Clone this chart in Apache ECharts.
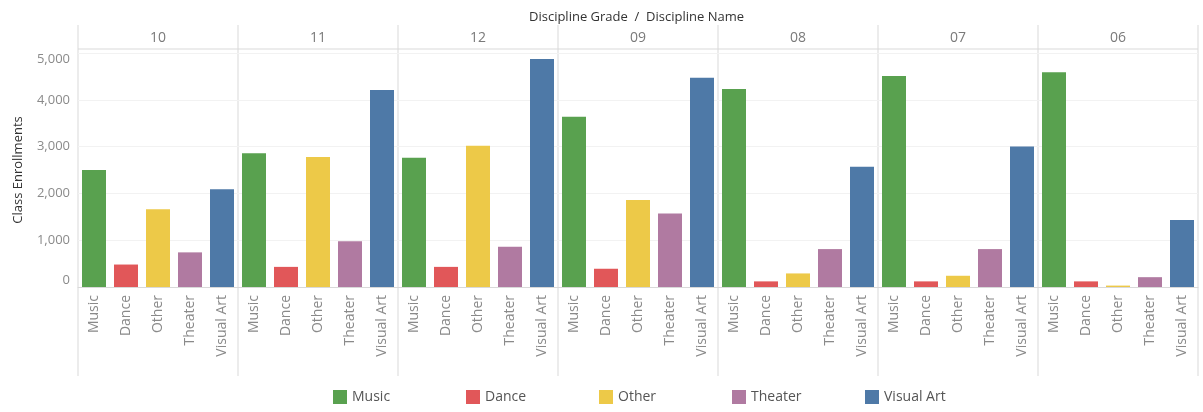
<!DOCTYPE html>
<html>
<head>
<meta charset="utf-8">
<script src="https://cdn.jsdelivr.net/npm/echarts@6/dist/echarts.min.js"></script>
<style>
  html, body { margin: 0; padding: 0; background: #fff; }
  #chart { width: 1203px; height: 412px; }
</style>
</head>
<body>
<div id="chart"></div>
<script>
// grades shown left to right, one panel each
const grades = ['10', '11', '12', '09', '08', '07', '06']
const disciplines = ['Music', 'Dance', 'Other', 'Theater', 'Visual Art']

// class enrollments per discipline, in grade order
const music = [2500, 2860, 2760, 3640, 4230, 4510, 4590]
const dance = [480, 430, 430, 390, 120, 120, 120]
const other = [1660, 2780, 3020, 1860, 290, 240, 30]
const theater = [740, 980, 860, 1570, 810, 810, 210]
const visualArt = [2090, 4210, 4870, 4470, 2570, 3000, 1430]

const yTicks = [0, 1000, 2000, 3000, 4000, 5000]

const values = [music, dance, other, theater, visualArt]
const colors = ['#59a14f', '#e15759', '#edc948', '#b07aa1', '#4e79a7']

const font = '"Open Sans", sans-serif'
const lineColor = '#d9d9d9'
const panelLeft = 78
const panelWidth = 160
const plotTop = 53
const plotHeight = 234

const chart = echarts.init(document.getElementById('chart'))

const grid = []
const xAxis = []
const yAxis = []
const series = []
const graphic = []

grades.forEach((g, i) => {
  grid.push({
    left: panelLeft + i * panelWidth,
    top: plotTop,
    width: panelWidth,
    height: plotHeight
  })
  xAxis.push({
    type: 'category',
    gridIndex: i,
    data: disciplines,
    axisLine: { lineStyle: { color: lineColor } },
    axisTick: { show: false },
    axisLabel: {
      rotate: 90,
      margin: 8,
      color: '#8a8a8a',
      fontFamily: font,
      fontSize: 14
    }
  })
  yAxis.push({
    type: 'value',
    gridIndex: i,
    min: 0,
    max: 5000,
    interval: 1000,
    axisLine: { show: false },
    axisTick: { show: false },
    splitLine: { lineStyle: { color: '#f2f2f2' } },
    axisLabel: {
      show: i === 0,
      color: '#8a8a8a',
      fontFamily: font,
      fontSize: 13,
      margin: 8,
      verticalAlignMinLabel: 'bottom',
      verticalAlignMaxLabel: 'top',
      formatter: v => yTicks.includes(v) ? v.toLocaleString('en-US') : ''
    },
    name: i === 0 ? 'Class Enrollments' : '',
    nameLocation: 'middle',
    nameGap: 53,
    nameTextStyle: { color: '#333', fontFamily: font, fontSize: 13 }
  })
  disciplines.forEach((d, k) => {
    series.push({
      name: d,
      type: 'bar',
      xAxisIndex: i,
      yAxisIndex: i,
      stack: 'grade' + i,
      barWidth: '75%',
      itemStyle: { color: colors[k] },
      data: disciplines.map((_, j) => j === k ? values[k][i] : '-')
    })
  })
  // panel header label
  graphic.push({
    type: 'text',
    x: panelLeft + i * panelWidth + panelWidth / 2,
    y: 38,
    style: {
      text: g,
      fill: '#7a7a7a',
      font: '14px ' + font,
      align: 'center',
      verticalAlign: 'middle'
    }
  })
})

// panel dividers
for (let i = 0; i <= grades.length; i++) {
  graphic.push({
    type: 'line',
    shape: { x1: panelLeft + i * panelWidth, y1: 25, x2: panelLeft + i * panelWidth, y2: 376 },
    style: { stroke: lineColor, lineWidth: 1 }
  })
}
graphic.push({
  type: 'line',
  shape: { x1: panelLeft, y1: 49, x2: panelLeft + grades.length * panelWidth, y2: 49 },
  style: { stroke: lineColor, lineWidth: 1 }
})

// one legend per discipline so the items sit on an even spacing
const legend = disciplines.map((d, k) => ({
  data: [d],
  left: 328 + k * 133,
  top: 385,
  itemWidth: 14,
  itemHeight: 14,
  icon: 'rect',
  textStyle: { color: '#555', fontFamily: font, fontSize: 14 }
}))

chart.setOption({
  animation: false,
  title: {
    text: 'Discipline Grade  /  Discipline Name',
    left: 524,
    top: 6,
    textStyle: { color: '#333', fontFamily: font, fontSize: 13, fontWeight: 'normal' }
  },
  legend,
  grid,
  xAxis,
  yAxis,
  series,
  graphic
})
</script>
</body>
</html>
